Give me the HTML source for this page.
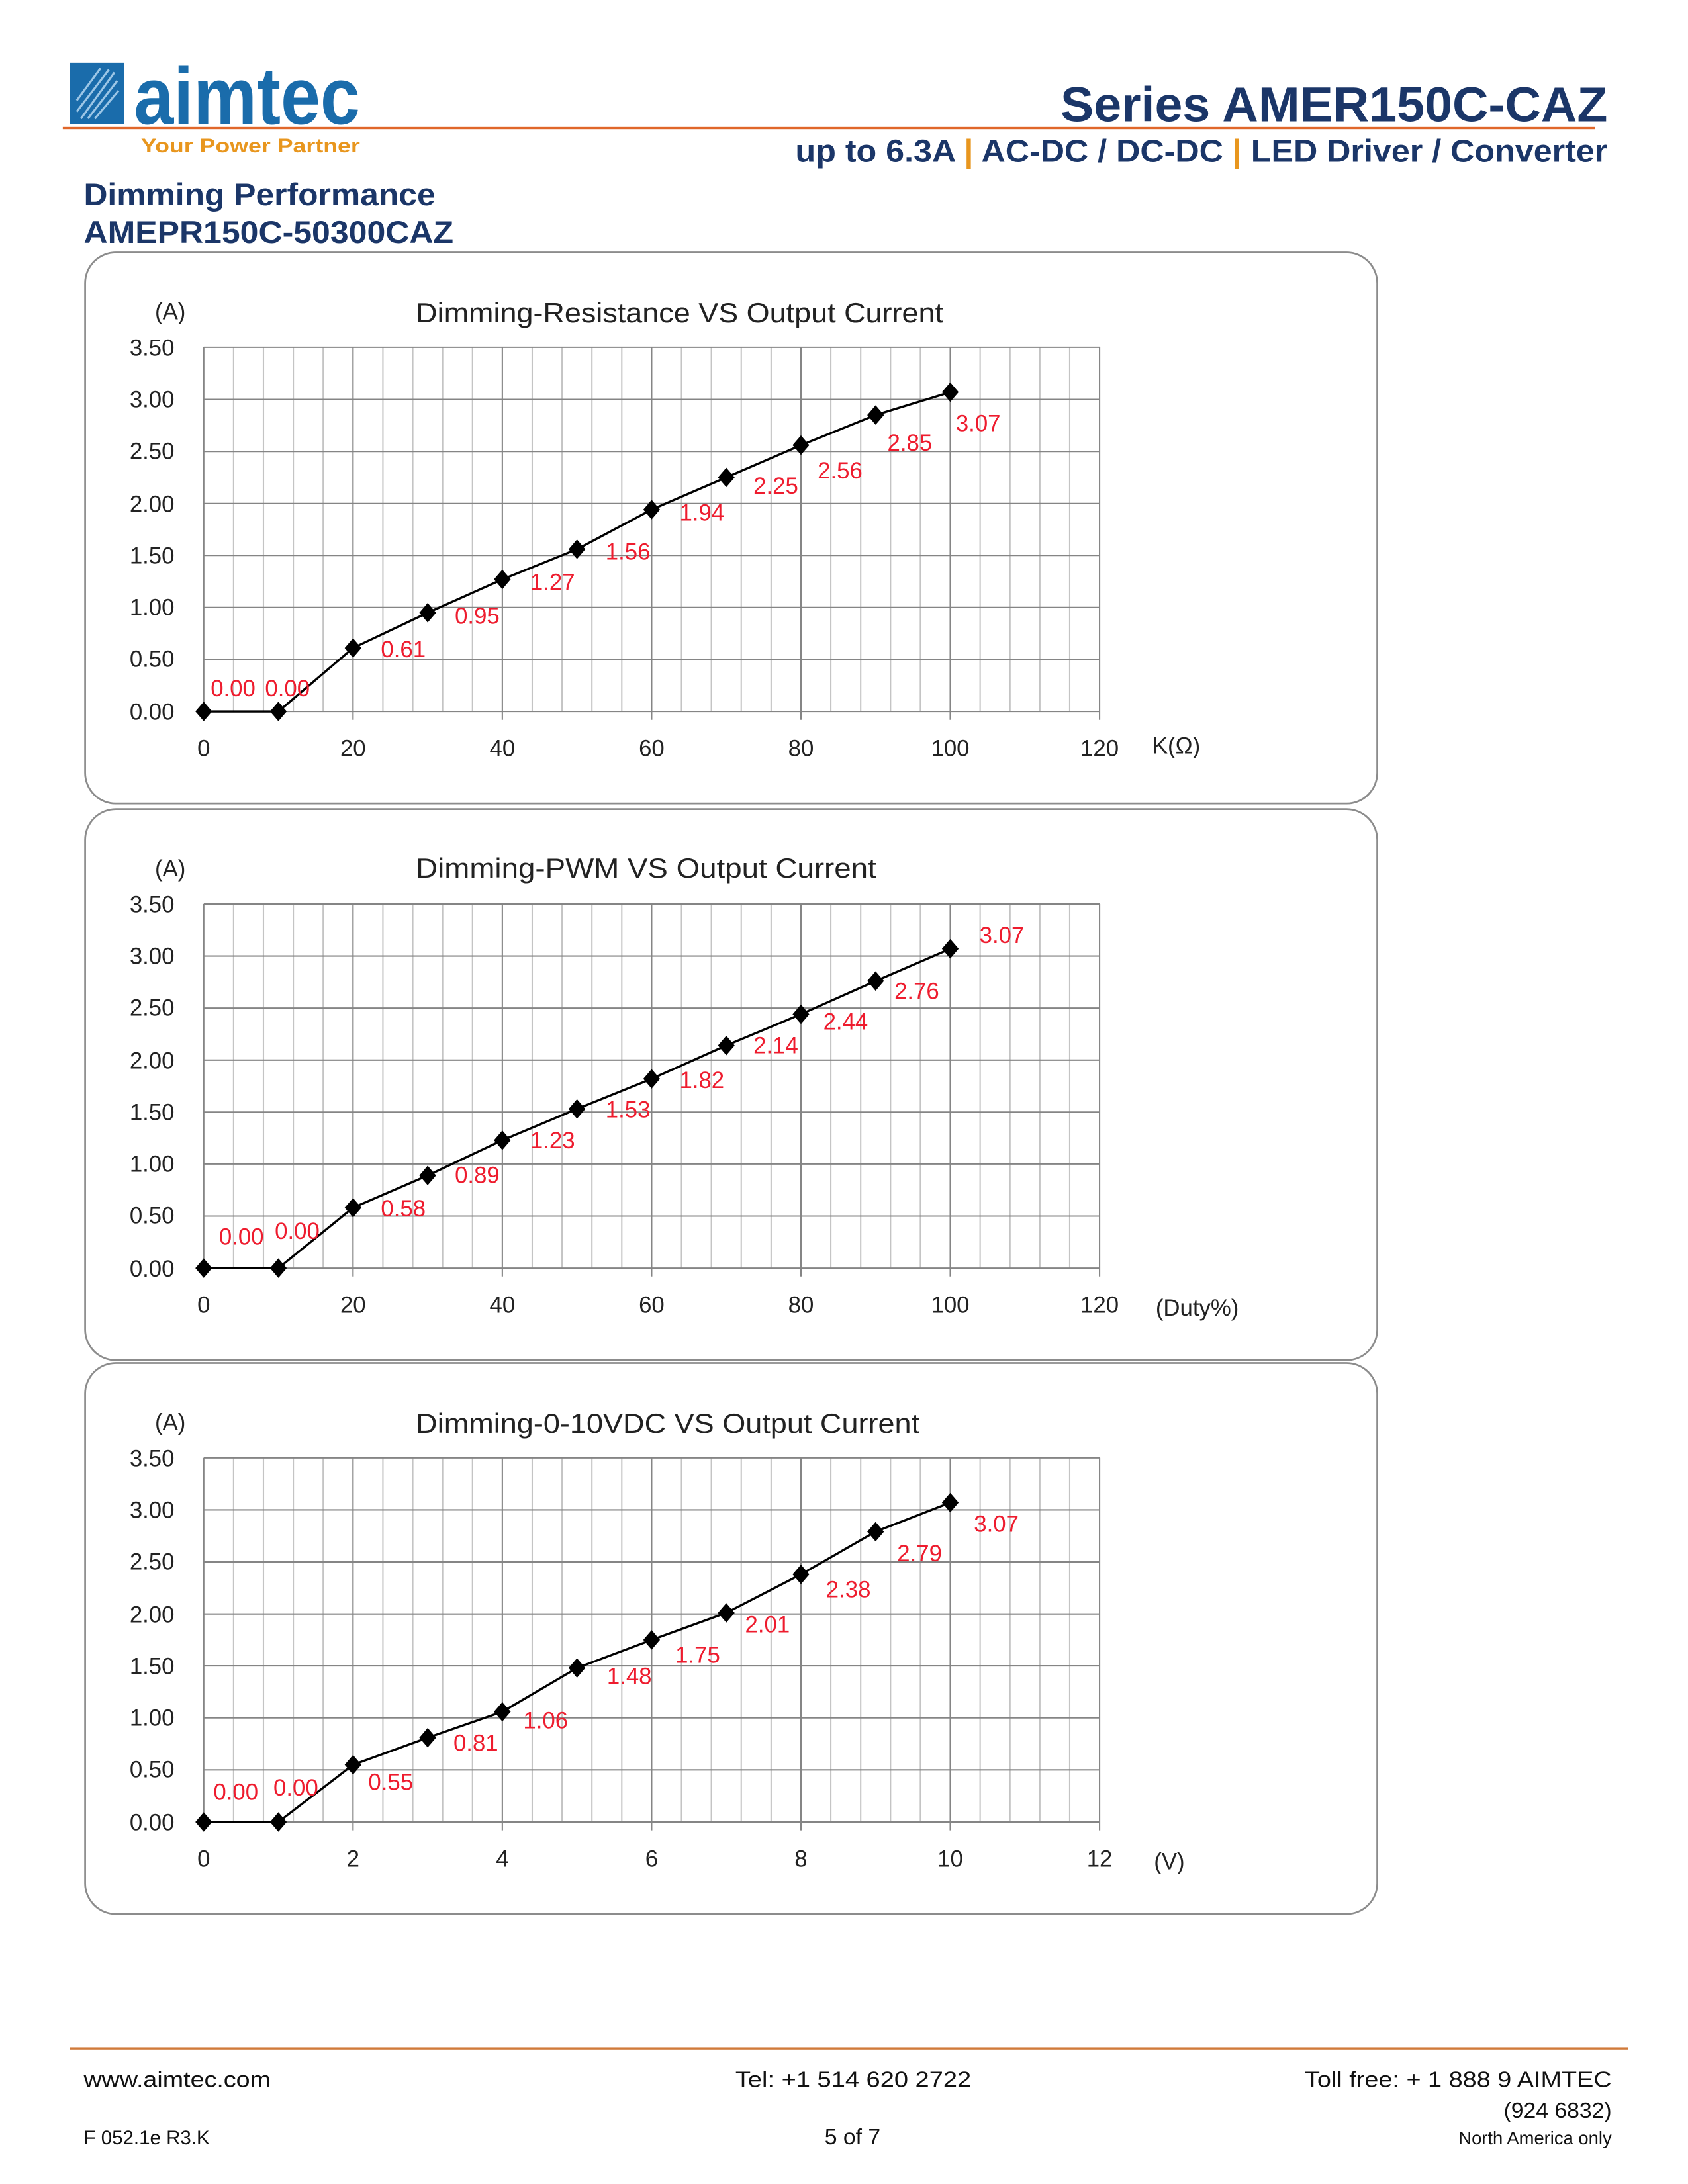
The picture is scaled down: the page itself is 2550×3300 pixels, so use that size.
<!DOCTYPE html>
<html><head><meta charset="utf-8"><style>
html,body{margin:0;padding:0;background:#fff;}
svg{display:block;}
.t{font-family:"Liberation Sans",sans-serif;}
.c{font-family:"Liberation Sans Narrow","Liberation Sans",sans-serif;}
</style></head><body>
<svg width="2550" height="3300" viewBox="0 0 1209.7 1565.5" xmlns="http://www.w3.org/2000/svg">
<defs>
<g id="grid" stroke-width="1" fill="none">
<g stroke="#c4c4c4">
<path d="M167.4 249V510M188.8 249V510M210.2 249V510M231.6 249V510M274.4 249V510M295.8 249V510M317.2 249V510M338.6 249V510M381.4 249V510M402.8 249V510M424.2 249V510M445.6 249V510M488.4 249V510M509.8 249V510M531.2 249V510M552.6 249V510M595.4 249V510M616.8 249V510M638.2 249V510M659.6 249V510M702.4 249V510M723.8 249V510M745.2 249V510M766.6 249V510"/>
</g>
<g stroke="#858585">
<path d="M146 249V516M253 249V516M360 249V516M467 249V516M574 249V516M681 249V516M788 249V516"/>
<path d="M146 249H788M146 286.3H788M146 323.6H788M146 360.9H788M146 398.1H788M146 435.4H788M146 472.7H788M146 510H788"/>
</g>
</g>
<g id="panel">
<rect x="61" y="181" width="926" height="395" rx="22" ry="22" fill="none" stroke="#8c8c8c" stroke-width="1.3"/>
<use href="#grid"/>
<g class="c" font-size="16.5" fill="#222" text-anchor="end">
<text x="125" y="255">3.50</text><text x="125" y="292">3.00</text><text x="125" y="329">2.50</text><text x="125" y="367">2.00</text><text x="125" y="404">1.50</text><text x="125" y="441">1.00</text><text x="125" y="478">0.50</text><text x="125" y="516">0.00</text>
</g>
<text class="c" x="122" y="229" font-size="16.5" fill="#222" text-anchor="middle">(A)</text>
</g>
<path id="dm" d="M0 -7L6 0L0 7L-6 0Z" fill="#000"/>
</defs>

<!-- header -->
<rect x="50" y="45" width="39" height="44" fill="#1a6cab"/>
<path d="M58 85L82 52M63 85L84 58M68 85L85 65M55 80L78 50M55 72L72 49" stroke="#9cc6e6" stroke-width="1.5"/>
<text class="t" x="96" y="89" font-size="58" font-weight="bold" fill="#1a6cab" textLength="162" lengthAdjust="spacingAndGlyphs">aimtec</text>
<text class="t" x="101" y="109" font-size="14" font-weight="bold" fill="#e8961e" textLength="157" lengthAdjust="spacingAndGlyphs">Your Power Partner</text>
<rect x="45" y="91" width="1098" height="1.6" fill="#e0672a"/>
<text class="t" x="1152" y="87" font-size="35" font-weight="bold" fill="#1b3668" text-anchor="end" textLength="392" lengthAdjust="spacingAndGlyphs">Series AMER150C-CAZ</text>
<text class="t" x="1152" y="116" font-size="23" font-weight="bold" fill="#1b3668" text-anchor="end" textLength="582" lengthAdjust="spacingAndGlyphs">up to 6.3A <tspan fill="#e8961e">|</tspan> AC-DC / DC-DC <tspan fill="#e8961e">|</tspan> LED Driver / Converter</text>
<text class="t" x="60" y="147" font-size="22.5" font-weight="bold" fill="#1b3668" textLength="252" lengthAdjust="spacingAndGlyphs">Dimming Performance</text>
<text class="t" x="60" y="174" font-size="22.5" font-weight="bold" fill="#1b3668" textLength="265" lengthAdjust="spacingAndGlyphs">AMEPR150C-50300CAZ</text>

<!-- chart 1 -->
<g>
<use href="#panel"/>
<text class="c" x="298" y="231" font-size="20" fill="#222" textLength="378" lengthAdjust="spacingAndGlyphs">Dimming-Resistance VS Output Current</text>
<g class="c" font-size="16.5" fill="#222" text-anchor="middle">
<text x="146" y="542">0</text><text x="253" y="542">20</text><text x="360" y="542">40</text><text x="467" y="542">60</text><text x="574" y="542">80</text><text x="681" y="542">100</text><text x="788" y="542">120</text>
<text x="843" y="540">K(Ω)</text>
</g>
<polyline points="146,510 199.5,510 253,464.5 306.5,439.2 360,415.3 413.5,393.7 467,365.3 520.5,342.2 574,319.1 627.5,297.5 681,281.1" fill="none" stroke="#000" stroke-width="1.6"/>
<use href="#dm" x="146" y="510"/><use href="#dm" x="199.5" y="510"/><use href="#dm" x="253" y="464.5"/><use href="#dm" x="306.5" y="439.2"/><use href="#dm" x="360" y="415.3"/><use href="#dm" x="413.5" y="393.7"/><use href="#dm" x="467" y="365.3"/><use href="#dm" x="520.5" y="342.2"/><use href="#dm" x="574" y="319.1"/><use href="#dm" x="627.5" y="297.5"/><use href="#dm" x="681" y="281.1"/>
<g class="c" font-size="16.5" fill="#ee1c2e" text-anchor="middle">
<text x="167" y="499">0.00</text><text x="206" y="499">0.00</text><text x="289" y="471">0.61</text><text x="342" y="447">0.95</text><text x="396" y="423">1.27</text><text x="450" y="401">1.56</text><text x="503" y="373">1.94</text><text x="556" y="354">2.25</text><text x="602" y="343">2.56</text><text x="652" y="323">2.85</text><text x="701" y="309">3.07</text>
</g>
</g>

<!-- chart 2 -->
<g transform="translate(0,399)">
<use href="#panel"/>
<text class="c" x="298" y="230" font-size="20" fill="#222" textLength="330" lengthAdjust="spacingAndGlyphs">Dimming-PWM VS Output Current</text>
<g class="c" font-size="16.5" fill="#222" text-anchor="middle">
<text x="146" y="542">0</text><text x="253" y="542">20</text><text x="360" y="542">40</text><text x="467" y="542">60</text><text x="574" y="542">80</text><text x="681" y="542">100</text><text x="788" y="542">120</text>
<text x="858" y="544">(Duty%)</text>
</g>
<polyline points="146,510 199.5,510 253,466.7 306.5,443.6 360,418.3 413.5,395.9 467,374.3 520.5,350.4 574,328 627.5,304.2 681,281.1" fill="none" stroke="#000" stroke-width="1.6"/>
<use href="#dm" x="146" y="510"/><use href="#dm" x="199.5" y="510"/><use href="#dm" x="253" y="466.7"/><use href="#dm" x="306.5" y="443.6"/><use href="#dm" x="360" y="418.3"/><use href="#dm" x="413.5" y="395.9"/><use href="#dm" x="467" y="374.3"/><use href="#dm" x="520.5" y="350.4"/><use href="#dm" x="574" y="328"/><use href="#dm" x="627.5" y="304.2"/><use href="#dm" x="681" y="281.1"/>
<g class="c" font-size="16.5" fill="#ee1c2e" text-anchor="middle">
<text x="173" y="493">0.00</text><text x="213" y="489">0.00</text><text x="289" y="473">0.58</text><text x="342" y="449">0.89</text><text x="396" y="424">1.23</text><text x="450" y="402">1.53</text><text x="503" y="381">1.82</text><text x="556" y="356">2.14</text><text x="606" y="339">2.44</text><text x="657" y="317">2.76</text><text x="718" y="277">3.07</text>
</g>
</g>

<!-- chart 3 -->
<g transform="translate(0,796)">
<use href="#panel"/>
<text class="c" x="298" y="231" font-size="20" fill="#222" textLength="361" lengthAdjust="spacingAndGlyphs">Dimming-0-10VDC VS Output Current</text>
<g class="c" font-size="16.5" fill="#222" text-anchor="middle">
<text x="146" y="542">0</text><text x="253" y="542">2</text><text x="360" y="542">4</text><text x="467" y="542">6</text><text x="574" y="542">8</text><text x="681" y="542">10</text><text x="788" y="542">12</text>
<text x="838" y="544">(V)</text>
</g>
<polyline points="146,510 199.5,510 253,469 306.5,449.6 360,431 413.5,399.6 467,379.5 520.5,360.1 574,332.5 627.5,301.9 681,281.1" fill="none" stroke="#000" stroke-width="1.6"/>
<use href="#dm" x="146" y="510"/><use href="#dm" x="199.5" y="510"/><use href="#dm" x="253" y="469"/><use href="#dm" x="306.5" y="449.6"/><use href="#dm" x="360" y="431"/><use href="#dm" x="413.5" y="399.6"/><use href="#dm" x="467" y="379.5"/><use href="#dm" x="520.5" y="360.1"/><use href="#dm" x="574" y="332.5"/><use href="#dm" x="627.5" y="301.9"/><use href="#dm" x="681" y="281.1"/>
<g class="c" font-size="16.5" fill="#ee1c2e" text-anchor="middle">
<text x="169" y="494">0.00</text><text x="212" y="491">0.00</text><text x="280" y="487">0.55</text><text x="341" y="459">0.81</text><text x="391" y="443">1.06</text><text x="451" y="411">1.48</text><text x="500" y="396">1.75</text><text x="550" y="374">2.01</text><text x="608" y="349">2.38</text><text x="659" y="323">2.79</text><text x="714" y="302">3.07</text>
</g>
</g>

<!-- footer -->
<rect x="50" y="1467.5" width="1117" height="1.6" fill="#d07a3a"/>
<g class="t" font-size="16" fill="#111">
<text x="60" y="1496" textLength="134" lengthAdjust="spacingAndGlyphs">www.aimtec.com</text>
<text x="527" y="1496" textLength="169" lengthAdjust="spacingAndGlyphs">Tel: +1 514 620 2722</text>
<text x="935" y="1496" textLength="220" lengthAdjust="spacingAndGlyphs">Toll free: + 1 888 9 AIMTEC</text>
<text x="1155" y="1518" text-anchor="end">(924 6832)</text>
<text x="60" y="1537" font-size="14">F 052.1e R3.K</text>
<text x="611" y="1537" text-anchor="middle">5 of 7</text>
<text x="1155" y="1537" font-size="13" text-anchor="end">North America only</text>
</g>
</svg>
</body></html>
